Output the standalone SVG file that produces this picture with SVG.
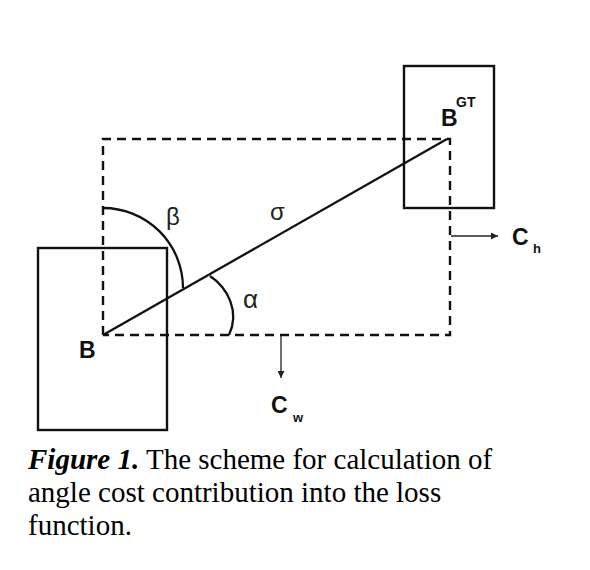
<svg xmlns="http://www.w3.org/2000/svg" width="590" height="570" viewBox="0 0 590 570">
<defs>
<style>
.box{fill:none;stroke:#111;stroke-width:2.4}
.dash{fill:none;stroke:#111;stroke-width:2.4;stroke-dasharray:9 6}
.ln{fill:none;stroke:#111;stroke-width:2.3}
.thin{fill:none;stroke:#222;stroke-width:1.3}
.lbl{font-family:"Liberation Sans",Arial,sans-serif;font-weight:bold;fill:#111}
.grk{font-family:"Liberation Sans","DejaVu Sans",sans-serif;fill:#222}
.cap{font-family:"Liberation Serif","Times New Roman",serif;fill:#000;font-size:29px}
</style>
<marker id="ah" viewBox="0 0 10 10" refX="10" refY="5" markerWidth="7" markerHeight="7" markerUnits="userSpaceOnUse" orient="auto">
<path d="M0,0 L10,5 L0,10 z" fill="#222"/>
</marker>
</defs>
<rect width="590" height="570" fill="#fff"/>
<g id="box-B">
<rect class="box" x="38" y="248" width="129" height="182"/>
<text class="lbl" x="79" y="358" font-size="23">B</text>
</g>
<g id="box-BGT">
<rect class="box" x="404" y="66" width="90" height="142"/>
<text class="lbl" x="441" y="126" font-size="23">B</text>
<text class="lbl" x="456" y="107" font-size="14">GT</text>
</g>
<g id="connectors">
<path class="dash" d="M103,335 V139 H450 V335 H103"/>
<line class="ln" x1="103" y1="335" x2="447" y2="139"/>
<path class="ln" d="M103,208 A80,80 0 0 1 183,288"/>
<path class="ln" d="M210,276 C228,288 240,312 229,335"/>
<line class="thin" x1="451" y1="236" x2="498" y2="236" marker-end="url(#ah)"/>
<line class="thin" x1="281" y1="336" x2="281" y2="378" marker-end="url(#ah)"/>
</g>
<g id="labels">
<text class="grk" x="166" y="225" font-size="24">β</text>
<text class="grk" x="270" y="220" font-size="24">σ</text>
<text class="grk" x="243" y="308" font-size="26">α</text>
<text class="lbl" x="512" y="245" font-size="23">C</text>
<text class="lbl" x="533" y="253" font-size="13">h</text>
<text class="lbl" x="271" y="413" font-size="23">C</text>
<text class="lbl" x="293" y="422" font-size="13">w</text>
</g>
<g id="caption">
<text class="cap" x="28" y="469"><tspan font-weight="bold" font-style="italic">Figure 1.</tspan> The scheme for calculation of</text>
<text class="cap" x="28" y="502">angle cost contribution into the loss</text>
<text class="cap" x="28" y="535">function.</text>
</g>
</svg>
